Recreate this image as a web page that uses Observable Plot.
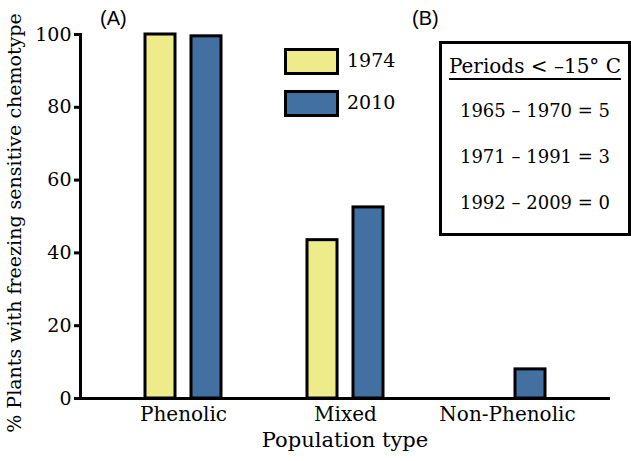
<!DOCTYPE html>
<html>
<head>
<meta charset="utf-8">
<script src="https://cdn.jsdelivr.net/npm/d3@7"></script>
<script src="https://cdn.jsdelivr.net/npm/@observablehq/plot@0.6"></script>
<style>
  html, body { margin: 0; padding: 0; background: #fff; }
  #wrap { position: relative; width: 631px; height: 461px; font-family: "DejaVu Serif", serif; }
  #wrap svg { position: absolute; left: 0; top: 0; }
  #wrap svg text { font-family: "DejaVu Serif", serif; }
  .panel { position: absolute; font-family: "Liberation Sans", Arial, sans-serif; font-size: 20px; line-height: 1; }
  .sw { position: absolute; box-sizing: border-box; border: 3px solid #000; width: 55px; height: 27px; }
  .lt { position: absolute; font-size: 19px; line-height: 1; }
  #box { position: absolute; box-sizing: border-box; border: 3px solid #000; left: 439px; top: 41px; width: 192px; height: 195px; }
  #box div { position: absolute; left: 0; width: 100%; text-align: center; font-size: 18px; line-height: 1; white-space: nowrap; }
  .ylab { position: absolute; left: 14px; top: 223px; white-space: nowrap; font-size: 19px; line-height: 1; transform: translate(-50%, -50%) rotate(-90deg); font-family: "DejaVu Serif", serif; }
  .xlab { position: absolute; left: 345px; top: 440px; white-space: nowrap; font-size: 21px; line-height: 1; transform: translate(-50%, -50%); font-family: "DejaVu Serif", serif; }
</style>
</head>
<body>
<div id="wrap"></div>
<script>
const categories = ["Phenolic", "Mixed", "Non-Phenolic"];
const years = ["1974", "2010"];
const values1974 = [100, 43.5, 0];
const values2010 = [99.5, 52.5, 8];
const yTicks = [0, 20, 40, 60, 80, 100];
const colors = ["#eeeb8a", "#4270a0"];
const periods = ["1965 \u2013 1970 = 5", "1971 \u2013 1991 = 3", "1992 \u2013 2009 = 0"];
const yLabel = "% Plants with freezing sensitive chemotype";
const xLabel = "Population type";

const data = [];
categories.forEach((c, i) => {
  data.push({type: c, year: "1974", value: values1974[i]});
  data.push({type: c, year: "2010", value: values2010[i]});
});

const font = "DejaVu Serif";
const chart = Plot.plot({
  width: 631,
  height: 461,
  marginLeft: 80,
  marginRight: 21,
  marginTop: 34,
  marginBottom: 63,
  style: {fontFamily: font, color: "#000", background: "transparent"},
  x: {domain: categories, range: [102, 588], paddingInner: 0.815, paddingOuter: 0.4075},
  y: {domain: [0, 100]},
  color: {domain: years, range: colors},
  marks: [
    Plot.barY(data.filter(d => d.year === "1974"), {x: "type", y: "value", fill: "year", stroke: "#000", strokeWidth: 3, dx: -23}),
    Plot.barY(data.filter(d => d.year === "2010"), {x: "type", y: "value", fill: "year", stroke: "#000", strokeWidth: 3, dx: 23}),
    Plot.frame({anchor: "left", strokeWidth: 3}),
    Plot.ruleY([0], {strokeWidth: 3}),
    Plot.axisY({ticks: yTicks, tickSize: 6, tickPadding: 3, strokeWidth: 3, fontSize: 19, fontFamily: font, label: null}),
    Plot.axisX({tickSize: 0, tickPadding: 8, fontSize: 20, fontFamily: font, label: null})
  ]
});

const wrap = document.getElementById("wrap");
wrap.appendChild(chart);

function addDiv(cls, style, text) {
  const d = document.createElement("div");
  d.className = cls;
  Object.assign(d.style, style);
  if (text != null) d.textContent = text;
  wrap.appendChild(d);
  return d;
}
addDiv("ylab", {}, yLabel);
addDiv("xlab", {}, xLabel);
addDiv("panel", {left: "100px", top: "8px"}, "(A)");
addDiv("panel", {left: "412px", top: "8px"}, "(B)");

years.forEach((y, i) => {
  const top = 48 + i * 42;
  addDiv("sw", {left: "284px", top: top + "px", background: colors[i]});
  addDiv("lt", {left: "347px", top: (top + 3) + "px"}, y);
});

const box = addDiv("", {}, null);
box.id = "box";
const head = document.createElement("div");
head.textContent = "Periods < \u201315\u00b0 C";
Object.assign(head.style, {top: "12px", textDecoration: "underline", textDecorationThickness: "2px", textUnderlineOffset: "5px", fontSize: "20px"});
box.appendChild(head);
periods.forEach((p, i) => {
  const d = document.createElement("div");
  d.textContent = p;
  d.style.top = (58 + i * 46) + "px";
  box.appendChild(d);
});
</script>
</body>
</html>
